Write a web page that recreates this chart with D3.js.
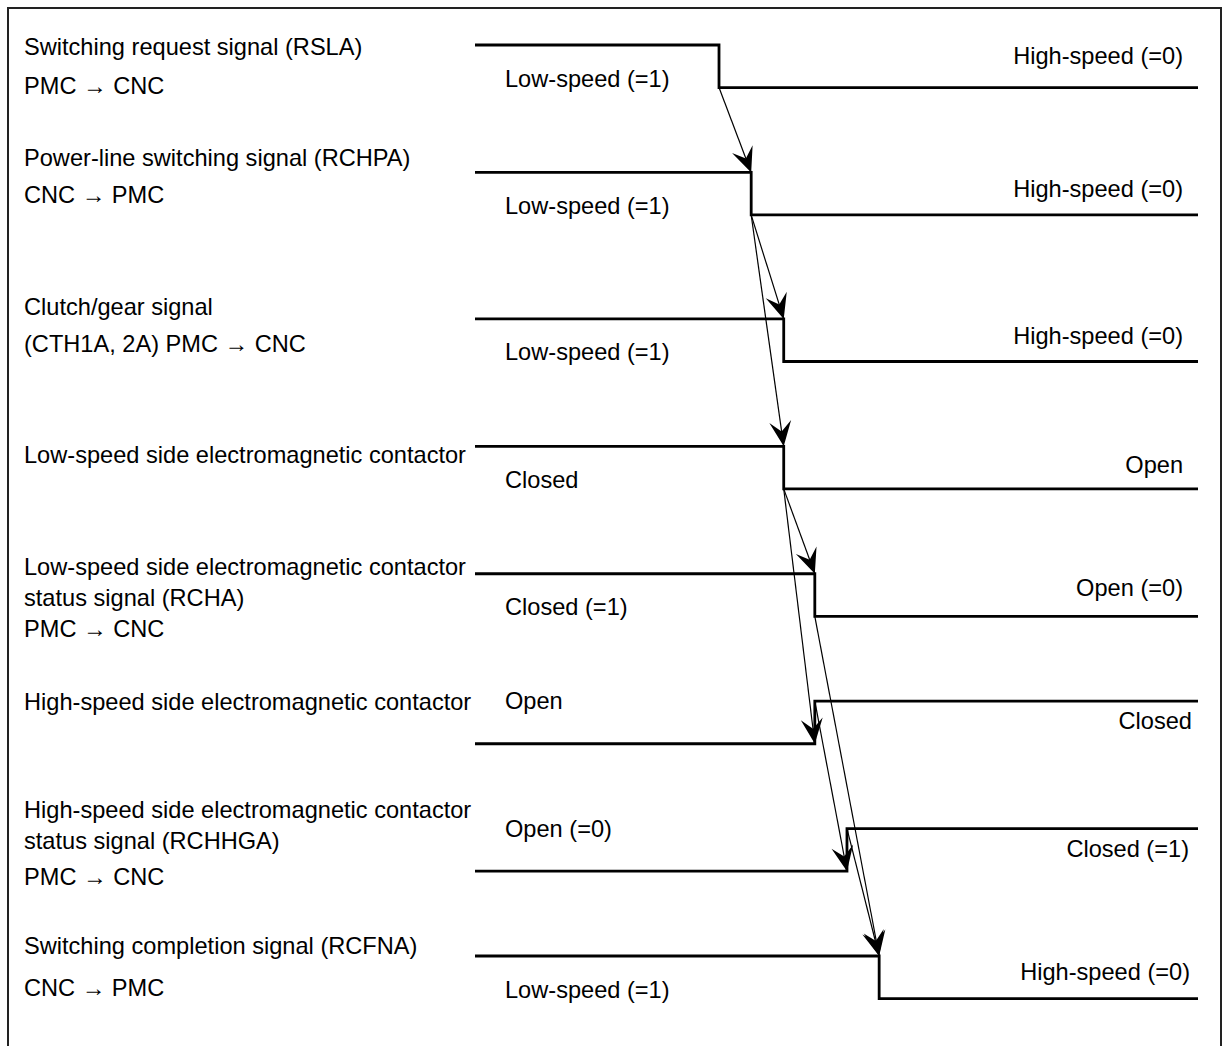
<!DOCTYPE html>
<html>
<head>
<meta charset="utf-8">
<script src="https://cdn.jsdelivr.net/npm/d3@7"></script>
<style>
  html, body { margin: 0; padding: 0; background: #fff; }
  svg { display: block; }
  text { font-family: "Liberation Sans", Arial, sans-serif; font-size: 23.6px; fill: #000; }
</style>
</head>
<body>
<div id="chart"></div>
<script>
// signal names, one entry per text line
const signalLabels = [
  ["Switching request signal (RSLA)", "PMC \u2192 CNC"],
  ["Power-line switching signal (RCHPA)", "CNC \u2192 PMC"],
  ["Clutch/gear signal", "(CTH1A, 2A) PMC \u2192 CNC"],
  ["Low-speed side electromagnetic contactor"],
  ["Low-speed side electromagnetic contactor", "status signal (RCHA)", "PMC \u2192 CNC"],
  ["High-speed side electromagnetic contactor"],
  ["High-speed side electromagnetic contactor", "status signal (RCHHGA)", "PMC \u2192 CNC"],
  ["Switching completion signal (RCFNA)", "CNC \u2192 PMC"]
]
// level before the switch (1 = high), and when it switches (0..100)
const startLevels = [1, 1, 1, 1, 1, 0, 0, 1]
const switchTimes = [33.75, 38.2, 42.7, 42.7, 47.0, 47.0, 51.45, 55.9]
const beforeStates = ["Low-speed (=1)", "Low-speed (=1)", "Low-speed (=1)", "Closed", "Closed (=1)", "Open", "Open (=0)", "Low-speed (=1)"]
const afterStates = ["High-speed (=0)", "High-speed (=0)", "High-speed (=0)", "Open", "Open (=0)", "Closed", "Closed (=1)", "High-speed (=0)"]
// cause -> effect, by signal index
const causeLinks = [[0, 1], [1, 2], [1, 3], [3, 4], [3, 5], [4, 7], [5, 6], [6, 7]]

// layout
const width = 1223
const height = 1046
const rowSlots = [0, 1, 2.15, 3.15, 4.15, 5.15, 6.15, 7.15]
const swing = 0.334
const nameBaselines = [[10, 49], [-6, 31], [-4, 33], [17], [1, 32, 63], [9], [-11, 20, 56], [-2, 40]]
const rightBaselines = [19, 25, 25, 27, 22, 28, 28, 24]
const rightEnds = [1183, 1183, 1183, 1183, 1183, 1192, 1189, 1190]

const svg = d3.select("#chart")
  .append("svg")
  .attr("width", width)
  .attr("height", height)

svg.append("rect")
  .attr("x", 8)
  .attr("y", 8)
  .attr("width", 1213)
  .attr("height", 1100)
  .attr("fill", "none")
  .attr("stroke", "#222")
  .attr("stroke-width", 2)

const xScale = d3.scaleLinear()
  .domain([0, 100])
  .range([475, 1198])

const yScale = d3.scaleLinear()
  .domain([0, 7.15])
  .range([45, 956])

const yOf = (i, level) => yScale(rowSlots[i] + (1 - level) * swing)
const rowTop = i => yScale(rowSlots[i])

svg.append("defs")
  .append("marker")
  .attr("id", "head")
  .attr("markerUnits", "userSpaceOnUse")
  .attr("viewBox", "-28 -14 30 28")
  .attr("refX", 0)
  .attr("refY", 0)
  .attr("markerWidth", 30)
  .attr("markerHeight", 28)
  .attr("orient", "auto")
  .append("path")
  .attr("d", "M0,0 L-25,-11 L-15,0 L-25,11 Z")
  .attr("fill", "#000")

const line = d3.line()
  .x(d => xScale(d[0]))
  .y(d => d[1])

const rows = signalLabels.map((lines, i) => ({
  i,
  lines,
  s: startLevels[i],
  t: switchTimes[i]
}))

// waveforms
svg.append("g")
  .selectAll("path")
  .data(rows)
  .join("path")
  .attr("d", d => line([
    [0, yOf(d.i, d.s)],
    [d.t, yOf(d.i, d.s)],
    [d.t, yOf(d.i, 1 - d.s)],
    [100, yOf(d.i, 1 - d.s)]
  ]))
  .attr("fill", "none")
  .attr("stroke", "#000")
  .attr("stroke-width", 2.8)

// signal names
const names = svg.append("g")
rows.forEach(d => {
  d.lines.forEach((txt, k) => {
    names.append("text")
      .attr("x", 24)
      .attr("y", rowTop(d.i) + nameBaselines[d.i][k])
      .text(txt)
  })
})

// state before the switch
svg.append("g")
  .selectAll("text")
  .data(rows)
  .join("text")
  .attr("x", 505)
  .attr("y", d => d.s === 1 ? yOf(d.i, 0) - 1 : rowTop(d.i) + 8)
  .text(d => beforeStates[d.i])

// state after the switch
svg.append("g")
  .selectAll("text")
  .data(rows)
  .join("text")
  .attr("x", d => rightEnds[d.i])
  .attr("y", d => rowTop(d.i) + rightBaselines[d.i])
  .attr("text-anchor", "end")
  .text(d => afterStates[d.i])

// cause -> effect arrows
svg.append("g")
  .selectAll("line")
  .data(causeLinks)
  .join("line")
  .attr("x1", d => xScale(switchTimes[d[0]]))
  .attr("y1", d => yOf(d[0], 1 - startLevels[d[0]]))
  .attr("x2", d => xScale(switchTimes[d[1]]))
  .attr("y2", d => yOf(d[1], startLevels[d[1]]))
  .attr("stroke", "#000")
  .attr("stroke-width", 1.2)
  .attr("marker-end", "url(#head)")
</script>
</body>
</html>
